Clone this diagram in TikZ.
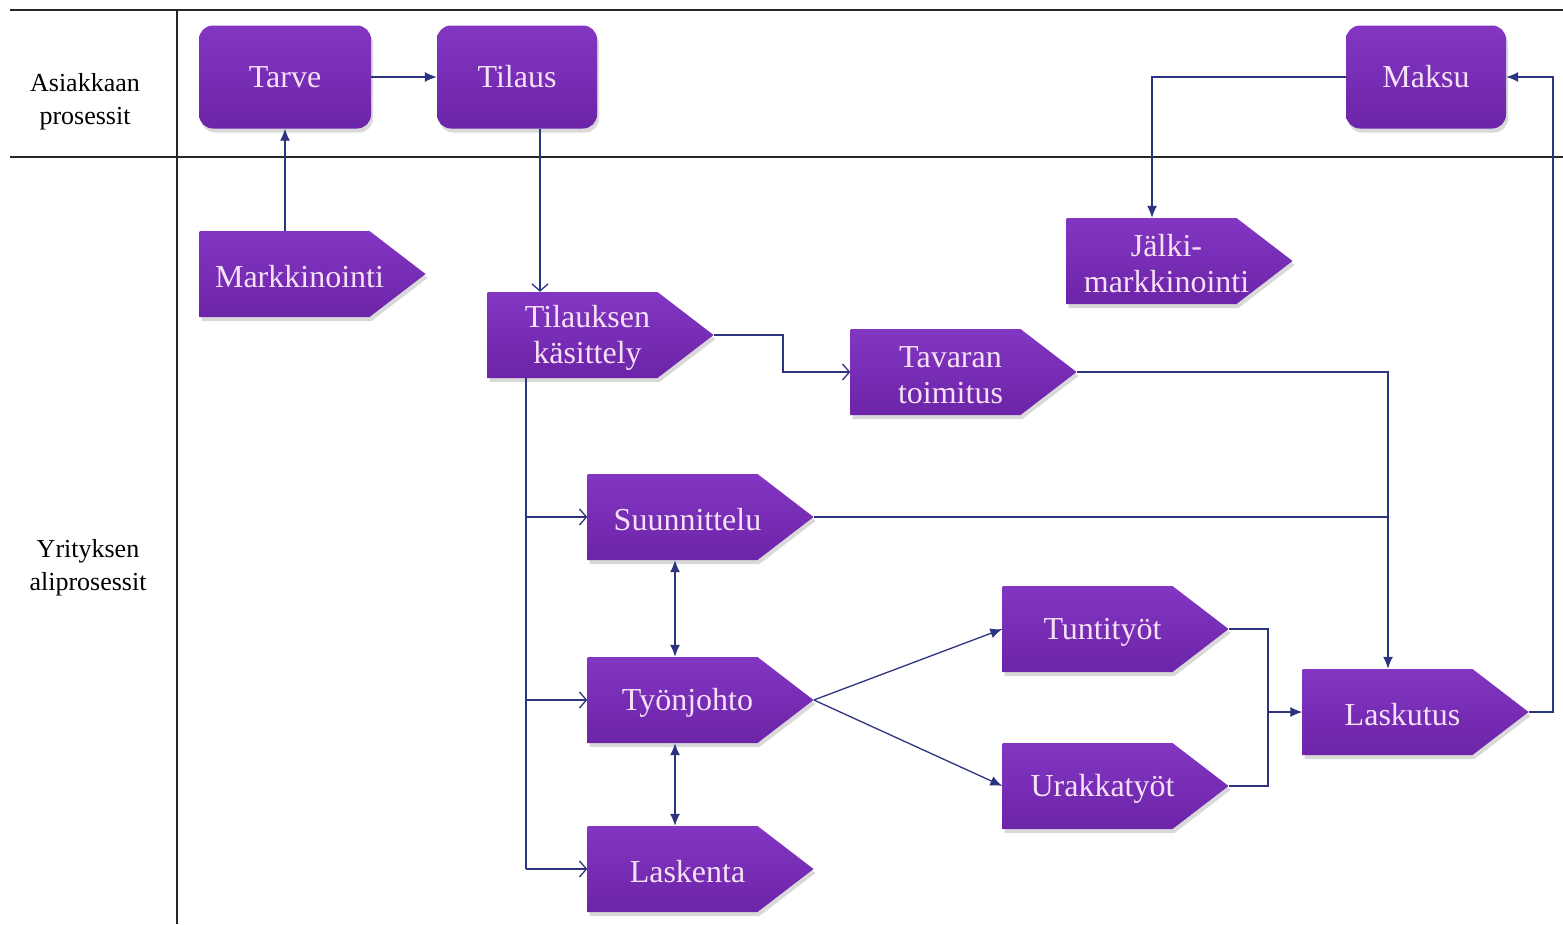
\documentclass[tikz,border=0pt]{standalone}
\usepackage{fontspec}
\setmainfont{Liberation Serif}
\usetikzlibrary{shapes.symbols,arrows.meta,shadows,calc}
\definecolor{proctop}{RGB}{130,54,194}
\definecolor{procbot}{RGB}{108,36,168}
\definecolor{flow}{RGB}{44,52,128}
\definecolor{proctext}{RGB}{246,224,246}

\begin{document}
\begin{tikzpicture}[x=1pt,y=-1pt,
  proc/.style={top color=proctop, bottom color=procbot, draw=none,
    text=proctext, font=\fontsize{32}{36}\selectfont, align=center, inner sep=0pt,
    drop shadow={opacity=0.3, shadow xshift=2pt, shadow yshift=-4pt}},
  roundbox/.style={proc, rectangle, rounded corners=14pt},
  pentbox/.style={proc, signal, signal to=east, signal pointer angle=75,
    minimum width=226pt, minimum height=86pt,
    label={[text=proctext, font=\fontsize{32}{36}\selectfont, align=center,
            xshift=15pt, yshift=-3pt]center:#1}},
  lane/.style={font=\fontsize{26}{33}\selectfont, align=center},
  grid/.style={line width=1.3pt, black!85},
  link/.style={line width=1.3pt, flow},
  fa/.style={link, -{Latex[length=12pt,width=10pt]}},
  oa/.style={link, -{Straight Barb[length=7pt,width=16pt]}},
  da/.style={link, {Latex[length=12pt,width=10pt]}-{Latex[length=12pt,width=10pt]}}]

\useasboundingbox (0,0) rectangle (1563,924);

% table frame
\draw[grid] (10,10) -- (1563,10);
\draw[grid] (10,157) -- (1563,157);
\draw[grid] (177,10) -- (177,924);

% lane titles
\node[lane] (laneA) at (85,102) {Asiakkaan\\prosessit};
\node[lane] (laneB) at (88,568) {Yrityksen\\aliprosessit};

% customer processes
\node[roundbox, minimum width=172pt, minimum height=103pt] (tarve) at (285,77) {Tarve};
\node[roundbox, minimum width=160pt, minimum height=103pt] (tilaus) at (517,77) {Tilaus};
\node[roundbox, minimum width=160pt, minimum height=103pt] (maksu) at (1426,77) {Maksu};

% company sub-processes (node centre = centre of the rectangular body)
\node[pentbox={Markkinointi}] (markk) at (284.5,274) {};
\node[pentbox={Jälki-\\markkinointi}] (jalki) at (1151.5,261) {};
\node[pentbox={Tilauksen\\käsittely}] (tkas) at (572.5,335) {};
\node[pentbox={Tavaran\\toimitus}] (tavara) at (935.5,372) {};
\node[pentbox={Suunnittelu}] (suunn) at (672.5,517) {};
\node[pentbox={Työnjohto}] (tyon) at (672.5,700) {};
\node[pentbox={Laskenta}] (lask) at (672.5,869) {};
\node[pentbox={Tuntityöt}] (tunti) at (1087.5,629) {};
\node[pentbox={Urakkatyöt}] (urakka) at (1087.5,786) {};
\node[pentbox={Laskutus}] (laskutus) at (1387.5,712) {};

% routing columns
\coordinate (cTil) at (540,0);
\coordinate (cJal) at (1152,0);
\coordinate (cRet) at (1553,0);
\coordinate (cTav) at (783,0);
\coordinate (cCol) at (1388,0);
\coordinate (cTrunk) at (526,0);
\coordinate (cDbl) at (675,0);
\coordinate (cJoin) at (1268,0);

% connectors
\draw[fa] (tarve) -- (tilaus);
\draw[fa] (markk.north -| tarve.south) -- (tarve.south);
\draw[oa] (tilaus.south -| cTil) -- (tkas.north -| cTil);
\draw[fa] (maksu.west) -| (jalki.north -| cJal);
\draw[fa] (laskutus.east) -- (laskutus.east -| cRet) |- (maksu.east);
\draw[oa] (tkas.east) -- (tkas.east -| cTav) |- (tavara.west);
\draw[fa] (tavara.east) -| (laskutus.north -| cCol);
\draw[link] (suunn.east) -- (suunn.east -| cCol);

\draw[link] (tkas.south -| cTrunk) -- (lask.west -| cTrunk);
\draw[oa] (suunn.west -| cTrunk) -- (suunn.west);
\draw[oa] (tyon.west -| cTrunk) -- (tyon.west);
\draw[oa] (lask.west -| cTrunk) -- (lask.west);

\draw[da] (suunn.south -| cDbl) -- (tyon.north -| cDbl);
\draw[da] (tyon.south -| cDbl) -- (lask.north -| cDbl);

\draw[fa] (tyon.east) -- (tunti.west);
\draw[fa] (tyon.east) -- (urakka.west);

\draw[fa] (tunti.east) -| (laskutus.west -| cJoin) -- (laskutus.west);
\draw[link] (urakka.east) -| (laskutus.west -| cJoin);

\end{tikzpicture}
\end{document}
